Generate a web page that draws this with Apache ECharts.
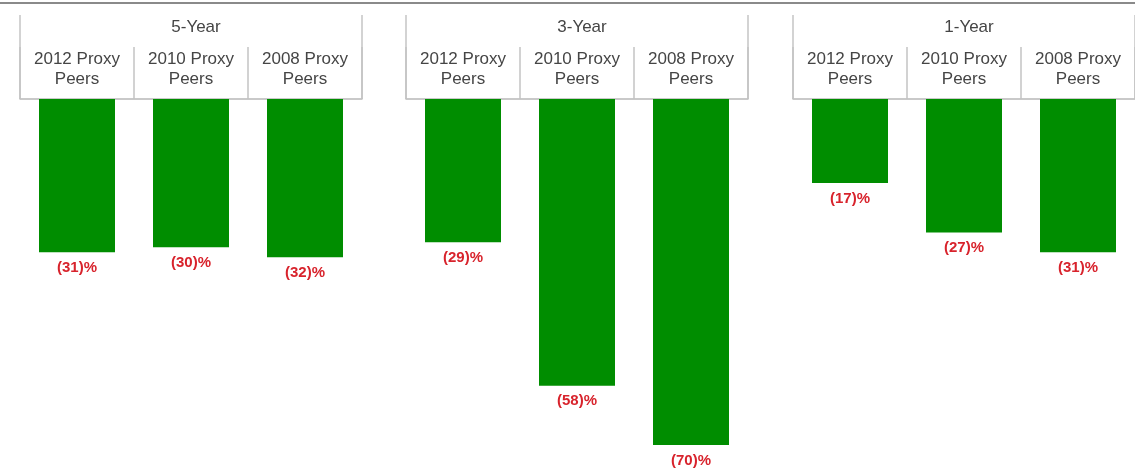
<!DOCTYPE html>
<html>
<head>
<meta charset="utf-8">
<script src="https://cdn.jsdelivr.net/npm/echarts@6/dist/echarts.min.js"></script>
<style>
html,body{margin:0;padding:0;background:#fff;}
#main{width:1135px;height:473px;}
</style>
</head>
<body>
<div id="main"></div>
<script>
const periods = ['5-Year', '3-Year', '1-Year'];
const categories = ['2012 Proxy\nPeers', '2010 Proxy\nPeers', '2008 Proxy\nPeers'];
const fiveYear = [-31, -30, -32];
const threeYear = [-29, -58, -70];
const oneYear = [-17, -27, -31];
const seriesValues = [fiveYear, threeYear, oneYear];

const gridLefts = [20, 406, 793];
const gridWidth = 342;
const FONT = '"Liberation Sans", Arial, sans-serif';

const chart = echarts.init(document.getElementById('main'), null, {renderer: 'canvas'});

const grids = [], xAxes = [], yAxes = [], series = [], titles = [];
periods.forEach((p, i) => {
  grids.push({left: gridLefts[i], width: gridWidth, top: 99, height: 346, containLabel: false});
  xAxes.push({
    type: 'category', gridIndex: i, position: 'top', data: categories,
    axisLine: {show: true, onZero: false, lineStyle: {color: '#b8b8b8', width: 1.5}},
    axisTick: {show: true, alignWithLabel: false, inside: false, length: 52, lineStyle: {color: '#c4c4c4', width: 1.5}},
    axisLabel: {show: true, margin: 10, color: '#454545', fontFamily: FONT, fontSize: 17, lineHeight: 20, align: 'center'},
    splitLine: {show: false}
  });
  yAxes.push({type: 'value', gridIndex: i, min: -70, max: 0, show: false, splitLine: {show: false}});
  series.push({
    type: 'bar', xAxisIndex: i, yAxisIndex: i, data: seriesValues[i], barWidth: 76,
    itemStyle: {color: '#008d00'},
    label: {
      show: true, position: 'bottom', distance: 8, color: '#d8232c', fontWeight: 'bold',
      fontFamily: FONT, fontSize: 15,
      formatter: (d) => '(' + Math.abs(d.value) + ')%'
    }
  });
  titles.push({
    text: p, left: gridLefts[i] + gridWidth / 2, top: 14, textAlign: 'center',
    textStyle: {color: '#454545', fontFamily: FONT, fontSize: 17, fontWeight: 'normal'}
  });
});

chart.setOption({
  animation: false,
  title: titles,
  grid: grids,
  xAxis: xAxes,
  yAxis: yAxes,
  series: series
});

// decorative header frame lines derived from grid rects
const graphics = [{
  type: 'line', shape: {x1: 0, y1: 3, x2: 1135, y2: 3},
  style: {stroke: '#8a8a8a', lineWidth: 2}
}];
periods.forEach((p, i) => {
  const rect = chart.getModel().getComponent('grid', i).coordinateSystem.getRect();
  [rect.x, rect.x + rect.width].forEach(x => {
    graphics.push({
      type: 'line', shape: {x1: x, y1: 15, x2: x, y2: rect.y},
      style: {stroke: '#c4c4c4', lineWidth: 1.5}
    });
  });
});
chart.setOption({graphic: graphics});
</script>
</body>
</html>
